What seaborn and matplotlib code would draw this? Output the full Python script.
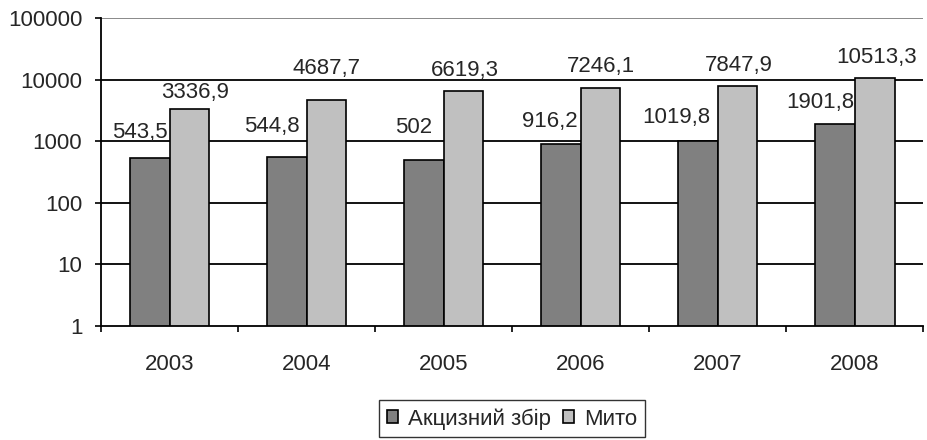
import matplotlib

matplotlib.use("Agg")
import matplotlib.pyplot as plt
import pandas as pd
import seaborn as sns
from matplotlib.ticker import FixedLocator, FuncFormatter

# data
years = ["2003", "2004", "2005", "2006", "2007", "2008"]
excise = [543.5, 544.8, 502, 916.2, 1019.8, 1901.8]
duty = [3336.9, 4687.7, 6619.3, 7246.1, 7847.9, 10513.3]
series_names = ["Акцизний збір", "Мито"]

# label placement (pixels) as in the original Excel chart
excise_dx = [-2, -7, -11, -3, -7, 0]
excise_dy = [20, 25, 27, 17, 18, 16]
duty_dx = [6, 0, 1, 0, 1.5, 1.5]
duty_dy = [11, 26, 15, 16, 15, 15]

df = pd.DataFrame(
    {
        "year": years * 2,
        "value": excise + duty,
        "series": [series_names[0]] * len(years) + [series_names[1]] * len(years),
    }
)

sns.set_style("white")
plt.rcParams["font.family"] = ["Liberation Sans", "DejaVu Sans"]
FS = 16
PX = 0.72  # points per pixel at dpi 100

fig = plt.figure(figsize=(9.27, 4.40), dpi=100)
ax = fig.add_axes([0.109, 0.259, 0.887, 0.700])

sns.barplot(
    data=df,
    x="year",
    y="value",
    hue="series",
    palette=["#808080", "#c0c0c0"],
    edgecolor="black",
    linewidth=1.2,
    width=0.58,
    saturation=1,
    ax=ax,
    zorder=3,
)

ax.set_yscale("log")
ax.set_ylim(1, 100000)
ax.set_xlim(-0.5, len(years) - 0.5)

# decade grid lines
for v in [10, 100, 1000, 10000]:
    ax.axhline(v, color="black", lw=1.3, zorder=1)
ax.axhline(100000, color="#808080", lw=1.3, zorder=1)

ax.yaxis.set_major_locator(FixedLocator([1, 10, 100, 1000, 10000, 100000]))
ax.yaxis.set_minor_locator(FixedLocator([]))
ax.yaxis.set_major_formatter(FuncFormatter(lambda v, p: f"{v:.0f}"))
ax.tick_params(axis="y", which="major", direction="out", length=4.5, width=1.2,
               color="black", pad=9, labelsize=FS, left=True)

# category boundaries as ticks, labels in the middle
ax.xaxis.set_major_locator(FixedLocator([i - 0.5 for i in range(len(years) + 1)]))
ax.xaxis.set_major_formatter(FuncFormatter(lambda v, p: ""))
ax.xaxis.set_minor_locator(FixedLocator(list(range(len(years)))))
ax.xaxis.set_minor_formatter(FuncFormatter(lambda v, p: years[int(round(v))]))
ax.tick_params(axis="x", which="major", direction="out", length=4.5, width=1.2,
               color="black", bottom=True)
ax.tick_params(axis="x", which="minor", length=0, pad=20, labelsize=FS)

for side in ["top", "right"]:
    ax.spines[side].set_visible(False)
for side in ["left", "bottom"]:
    ax.spines[side].set_color("black")
    ax.spines[side].set_linewidth(1.3)
    ax.spines[side].set_zorder(4)

ax.set_xlabel("")
ax.set_ylabel("")

# value labels
dark, light = ax.containers[0], ax.containers[1]
for bar, v, dx, dy in zip(dark, excise, excise_dx, excise_dy):
    ax.annotate(
        f"{v:g}".replace(".", ","),
        (bar.get_x() + bar.get_width(), v),
        xytext=(dx * PX, dy * PX),
        textcoords="offset points",
        ha="right",
        va="baseline",
        fontsize=FS,
    )
for bar, v, dx, dy in zip(light, duty, duty_dx, duty_dy):
    ax.annotate(
        f"{v:g}".replace(".", ","),
        (bar.get_x() + bar.get_width() / 2, v),
        xytext=(dx * PX, dy * PX),
        textcoords="offset points",
        ha="center",
        va="baseline",
        fontsize=FS,
    )

handles, labels = ax.get_legend_handles_labels()
ax.legend_.remove()
leg = fig.legend(
    handles,
    labels,
    loc="center",
    bbox_to_anchor=(0.5525, 0.048),
    ncol=2,
    fontsize=FS,
    frameon=True,
    fancybox=False,
    edgecolor="black",
    handlelength=0.5,
    handleheight=0.5,
    handletextpad=0.45,
    columnspacing=0.55,
    borderpad=0.35,
    borderaxespad=0,
)
leg.get_frame().set_linewidth(1.0)

fig.savefig("out.png", dpi=100)
